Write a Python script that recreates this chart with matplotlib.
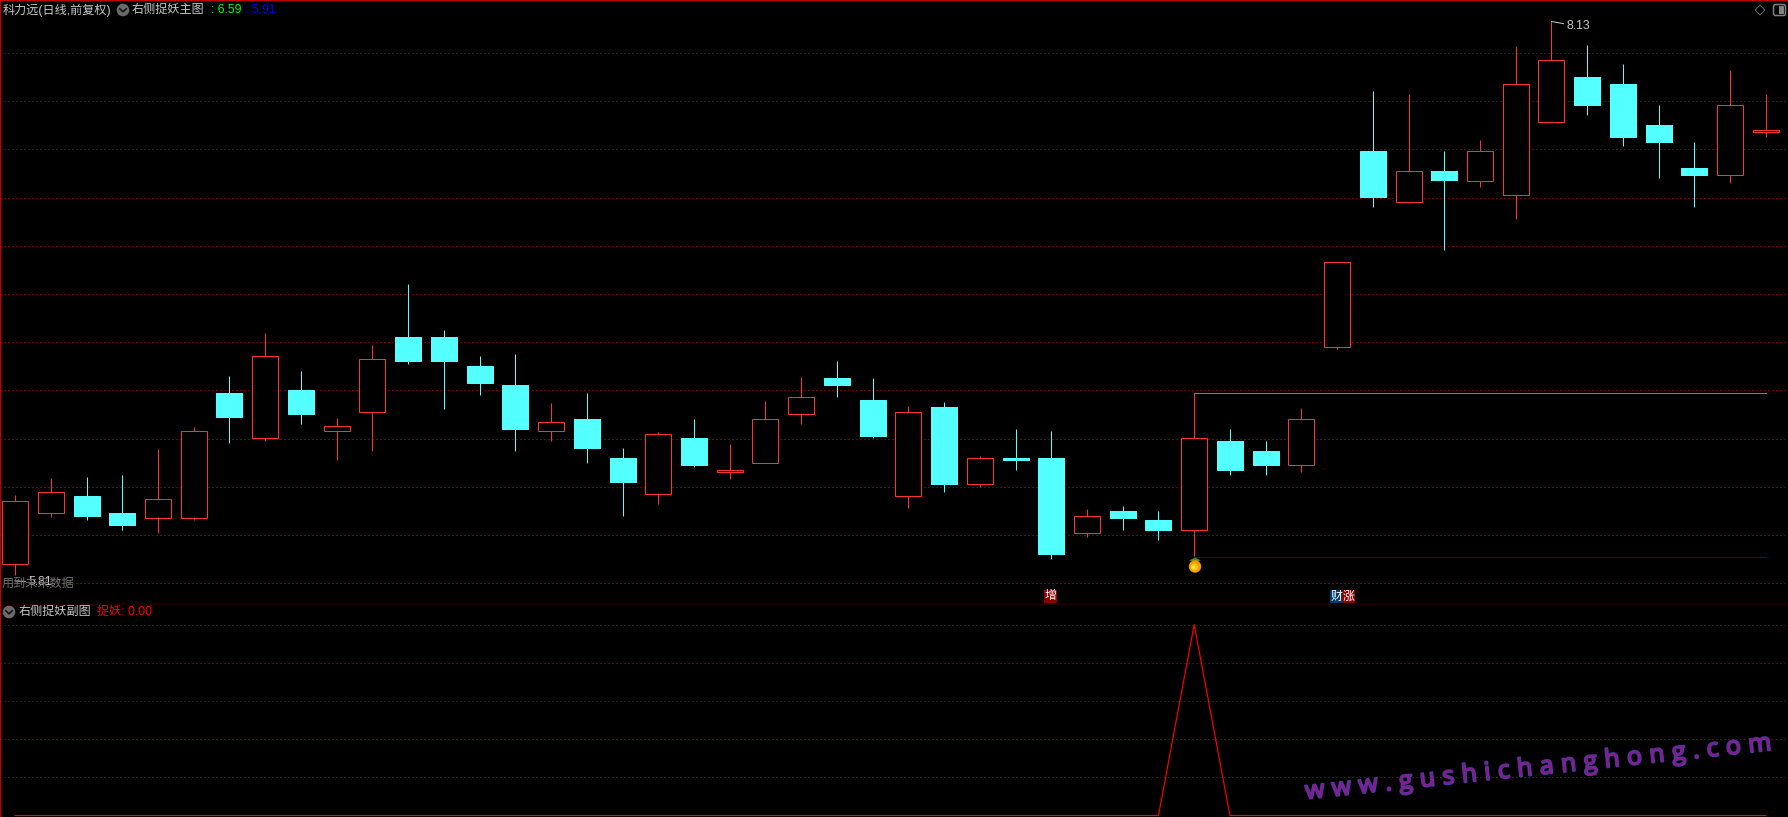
import matplotlib
matplotlib.use("Agg")
import matplotlib.pyplot as plt
from matplotlib.patches import Rectangle, Circle, Polygon, FancyBboxPatch
from matplotlib.font_manager import FontProperties
from matplotlib.textpath import TextToPath
from matplotlib.transforms import Affine2D
import matplotlib.patheffects as pe
import math

plt.rcParams['font.family'] = ['Liberation Sans', 'Noto Sans CJK SC', 'DejaVu Sans']

# ---- data (prices) ----
opens = [5.879,6.091,6.164,6.094,6.070,6.070,6.591,6.402,6.604,6.431,
         6.510,6.823,6.823,6.703,6.624,6.431,6.483,6.322,6.170,6.405,
         6.261,6.298,6.501,6.653,6.562,6.161,6.533,6.211,6.322,6.322,
         6.008,6.102,6.065,6.020,6.392,6.351,6.290,6.779,7.594,7.380,
         7.512,7.470,7.409,7.712,7.901,7.872,7.702,7.524,7.492,7.670]
closes = [6.142,6.179,6.081,6.044,6.150,6.432,6.492,6.743,6.504,6.453,
          6.731,6.724,6.724,6.633,6.442,6.469,6.363,6.222,6.420,6.293,
          6.270,6.482,6.573,6.624,6.413,6.511,6.214,6.320,6.313,5.924,
          6.080,6.073,6.023,6.403,6.272,6.293,6.482,7.133,7.404,7.510,
          7.474,7.593,7.871,7.970,7.785,7.652,7.632,7.495,7.784,7.680]
highs = [6.168,6.239,6.243,6.251,6.359,6.450,6.662,6.840,6.682,6.487,
         6.790,7.043,6.852,6.744,6.753,6.550,6.591,6.363,6.429,6.483,
         6.380,6.558,6.657,6.724,6.653,6.537,6.554,6.330,6.442,6.434,
         6.110,6.123,6.102,6.590,6.442,6.392,6.529,7.133,7.843,7.831,
         7.594,7.640,8.030,8.130,8.034,7.955,7.785,7.632,7.930,7.831]
lows = [5.834,6.074,6.065,6.023,6.011,6.065,6.384,6.392,6.463,6.313,
        6.351,6.711,6.525,6.583,6.351,6.392,6.301,6.081,6.131,6.284,
        6.235,6.298,6.463,6.575,6.405,6.114,6.181,6.201,6.272,5.903,
        5.994,6.023,5.982,5.915,6.251,6.251,6.264,6.774,7.362,7.380,
        7.184,7.445,7.312,7.712,7.744,7.615,7.482,7.362,7.462,7.652]
indicator = [0]*33 + [1] + [0]*16
grid_prices = [5.8,6.0,6.2,6.4,6.6,6.8,7.0,7.2,7.4,7.6,7.8,8.0]
grid_indicator = [0.2,0.4,0.6,0.8,1.0]
resistance = 6.59
support = 5.91
signal_index = 33
high_label = 8.13
low_label = 5.81
W, H = 1788, 817

# ---- layout in pixels ----
X0, STEP = 15.1, 35.73
SPLIT = 604.5
PX_PER_PRICE = 241.2
Y_RES = 392.9
HALF = 13 / STEP
px1 = 1 / 100 * 72       # one pixel in points

fig = plt.figure(figsize=(W/100, H/100), dpi=100, facecolor='black')
ax1 = fig.add_axes([0, 1-SPLIT/H, 1, SPLIT/H], facecolor='black')
ax2 = fig.add_axes([0, 0, 1, 1-SPLIT/H], facecolor='black')
px = Affine2D().scale(1, -1).translate(0, H)

for ax in (ax1, ax2):
    ax.set_xlim(-X0/STEP, (W-X0)/STEP)
    ax.set_xticks([])
    ax.tick_params(axis='y', length=0, labelleft=False)
    ax.set_axisbelow(True)
    for s in ax.spines.values():
        s.set_color('#c00000'); s.set_linewidth(px1*1.3)
    ax.spines['right'].set_visible(False)
ax2.spines['top'].set_visible(False)
ax2.spines['bottom'].set_visible(False)
ax1.set_ylim(resistance-(SPLIT-Y_RES)/PX_PER_PRICE, resistance+Y_RES/PX_PER_PRICE)
ax2.set_ylim(-(H-815.5)/191, (815.5-SPLIT)/191)
ax1.set_yticks(grid_prices)
ax2.set_yticks(grid_indicator)
for ax, col in ((ax1, '#e00000'), (ax2, '#c80000')):
    ax.grid(axis='y', color=col, lw=px1, ls=(0, (1, 3)))
    ax.grid(axis='x', visible=False)

RED, CYAN = '#ff3232', '#54ffff'
for i, (o, c, h, l) in enumerate(zip(opens, closes, highs, lows)):
    up = c >= o
    col = RED if up else CYAN
    top, bot = max(o, c), min(o, c)
    ax1.vlines(i, top, h, color=col, lw=px1, zorder=3)
    ax1.vlines(i, l, bot, color=col, lw=px1, zorder=3)
    ax1.add_patch(Rectangle((i-HALF, bot), 2*HALF, top-bot, fc='black' if up else CYAN,
                            ec=col, lw=px1, zorder=3))

xs = list(range(signal_index, len(opens)))
ax1.plot(xs, [resistance]*len(xs), color='#00d000', lw=px1, zorder=4)
ax1.plot(xs, [support]*len(xs), color='#0000e0', lw=px1, zorder=4)
ax2.plot(range(len(indicator)), indicator, color='#ff0000', lw=px1*1.2, zorder=4, clip_on=False)

# high / low flags
for idx, val, off in ((43, high_label, (15, -5)), (0, low_label, (13, -1))):
    ax1.annotate(f'{val:.2f}', xy=(idx, val), xytext=off, textcoords='offset pixels',
                 color='#c8c8c8', fontsize=8.8, va='center', ha='left', zorder=6,
                 arrowprops=dict(arrowstyle='-', color='#c8c8c8', lw=px1, shrinkA=0, shrinkB=0))

def T(x, y, s, color='#c8c8c8', size=8.7, **kw):
    return fig.text(x, y, s, color=color, fontsize=size, transform=px, va='center', ha='left', **kw)

def chevron(cx, cy):
    fig.add_artist(Circle((cx, cy), 6.3, fc='#6a6a6a', ec='none', transform=px))
    fig.add_artist(plt.Line2D([cx-3.2, cx, cx+3.2], [cy-1.2, cy+1.8, cy-1.2], color='#101010',
                              lw=1.1, transform=px))

T(3, 10, '科力远(日线,前复权)')
chevron(123, 10)
T(132, 10, '右侧捉妖主图')
T(211, 10, f': {resistance:.2f}', color='#00ff00')
T(245, 10, f': {support:.2f}', color='#0000ff')

T(2, 584, '用到未来数据', color='#707070')

chevron(9, 612)
T(19, 612, '右侧捉妖副图')
T(97, 612, f'捉妖: {indicator[-1]:.2f}', color='#ff0000')

# top-right icons
fig.add_artist(Polygon([(1760, 5), (1765, 10), (1760, 15), (1755, 10)], closed=True, fc='none',
                       ec='#6a6a6a', lw=px1, transform=px))
fig.add_artist(FancyBboxPatch((1775, 6), 9, 8, boxstyle='round,pad=1.5,rounding_size=2', fc='none',
                              ec='#808080', lw=1.1, transform=px))
fig.add_artist(Rectangle((1779, 6), 5, 8, fc='#808080', ec='none', transform=px))

# signal tags
for x0, s, bg in ((1044, '增', '#8b0000'), (1330, '财', '#003a6e'), (1342, '涨', '#8b0000')):
    fig.add_artist(Rectangle((x0, 590), 13, 13, fc=bg, ec='none', transform=px))
    fig.text(x0+6.5, 596.5, s, color='white', fontsize=8.6, ha='center', va='center',
             transform=px)

# fruit marker
cx, cy = 1195, 566.5
fig.add_artist(Polygon([(cx-6, cy-6), (cx, cy-9), (cx+6, cy-6), (cx, cy-5)], closed=True,
                       fc='#5a8a1a', ec='none', transform=px))
fig.add_artist(Circle((cx, cy), 6.2, fc='#f59a00', ec='none', transform=px))
fig.add_artist(Circle((cx-0.5, cy+0.5), 3.6, fc='#ffc800', ec='none', transform=px))
fig.add_artist(Circle((cx-2, cy+1), 1.5, fc='#fff27a', ec='none', transform=px))

# watermark, letter-spaced along a slanted baseline
mark = 'www.gushichanghong.com'
prop = FontProperties(family='Open Sans', size=18)
tp = TextToPath()
adv = [tp.get_text_width_height_descent(ch, prop, ismath=False)[0]*100/72 for ch in mark]
sx, sy, ex, ey = 1306, 799, 1772, 750
length = math.hypot(ex-sx, ey-sy)
gap = (length - sum(adv)) / (len(mark)-1)
ang = math.atan2(sy-ey, ex-sx)
d = 0.0
for ch, a in zip(mark, adv):
    fig.text(sx+d*math.cos(ang), sy-d*math.sin(ang), ch, color='#8c1a8c', fontproperties=prop,
             rotation=math.degrees(ang), rotation_mode='anchor', ha='left', va='baseline',
             transform=px, path_effects=[pe.withStroke(linewidth=1.4, foreground='#4a3aa0')], zorder=10)
    d += a + gap

fig.savefig('out.png', dpi=100, facecolor='black')
